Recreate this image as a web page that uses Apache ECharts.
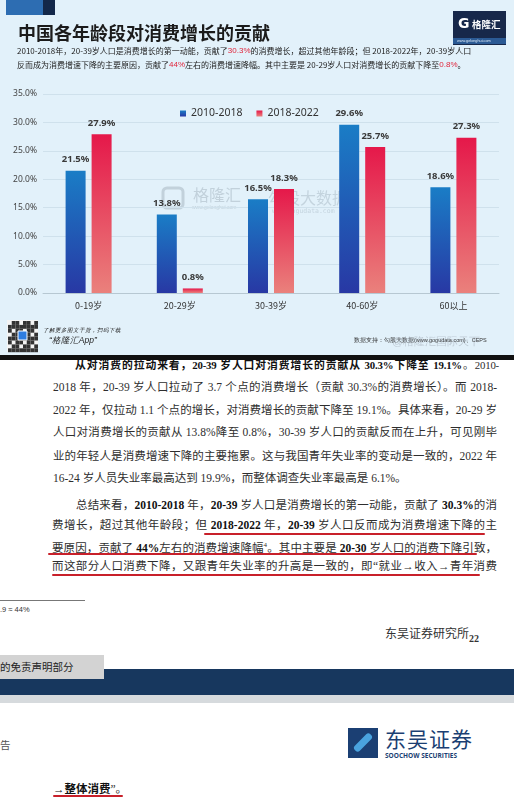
<!DOCTYPE html>
<html><head><meta charset="utf-8">
<script src="https://cdn.jsdelivr.net/npm/echarts/dist/echarts.min.js"></script>
<style>
body{margin:0;width:514px;height:800px;overflow:hidden;background:#fff;font-family:"Noto Sans CJK SC",sans-serif;position:relative;}
#chart{position:absolute;left:0;top:0;width:514px;height:355px;}
.blk{position:absolute;}
.ln{position:absolute;font-family:"Liberation Serif","Noto Sans CJK SC",serif;font-size:11.5px;line-height:16px;color:#2e2e2e;text-align:justify;text-align-last:justify;}
.ln b{font-weight:bold;color:#111;}
.ul{position:absolute;height:2px;background:#c8202a;border-radius:1px;}
</style></head>
<body>
<div id="chart"></div>
<div class="blk" style="left:0;top:355px;width:514px;height:5px;background:#111;"></div>

<div class="ln" style="left:75px;top:357px;width:424px;font-size:10.8px;letter-spacing:-0.2px;"><b>从对消费的拉动来看，20-39 岁人口对消费增长的贡献从 30.3%下降至 19.1%</b>。2010-</div>
<div class="ln" style="left:53px;top:379px;width:444px;">2018 年，20-39 岁人口拉动了 3.7 个点的消费增长（贡献 30.3%的消费增长）。而 2018-</div>
<div class="ln" style="left:53px;top:402px;width:444px;">2022 年，仅拉动 1.1 个点的增长，对消费增长的贡献下降至 19.1%。具体来看，20-29 岁</div>
<div class="ln" style="left:53px;top:424px;width:444px;">人口对消费增长的贡献从 13.8%降至 0.8%，30-39 岁人口的贡献反而在上升，可见刚毕</div>
<div class="ln" style="left:53px;top:448px;width:444px;">业的年轻人是消费增速下降的主要拖累。这与我国青年失业率的变动是一致的，2022 年</div>
<div class="ln" style="left:53px;top:470px;text-align:left;text-align-last:left;">16-24 岁人员失业率最高达到 19.9%，而整体调查失业率最高是 6.1%。</div>

<div class="ln" style="left:76px;top:497px;width:421px;">总结来看，<b>2010-2018</b> 年，<b>20-39</b> 岁人口是消费增长的第一动能，贡献了 <b>30.3%</b>的消</div>
<div class="ln" style="left:52px;top:517px;width:445px;">费增长，超过其他年龄段；但 <b>2018-2022</b> 年，<b>20-39</b> 岁人口反而成为消费增速下降的主</div>
<div class="ln" style="left:52px;top:537px;width:445px;">要原因，贡献了 <b>44%</b>左右的消费增速降幅<sup style="font-size:7px">4</sup>。其中主要是 <b>20-30</b> 岁人口的消费下降引致，</div>
<div class="ln" style="left:52px;top:558px;width:445px;">而这部分人口消费下降，又跟青年失业率的升高是一致的，即“就业→收入→青年消费</div>
<div class="ul" style="left:204px;top:533px;width:281px;"></div>
<div class="ul" style="left:48px;top:553px;width:429px;"></div>
<div class="ul" style="left:52px;top:574px;width:428px;"></div>

<div class="blk" style="left:0;top:600px;width:85px;height:1px;background:#777;"></div>
<div class="blk" style="left:0;top:605px;font-family:'Liberation Sans';font-size:7.5px;color:#333;">.9 ≈ 44%</div>
<div class="blk" style="left:385px;top:624px;font-family:'Liberation Serif','Noto Sans CJK SC';font-size:12px;color:#333;">东吴证券研究所<b style="font-size:10px;position:relative;top:4px;">22</b></div>
<div class="blk" style="left:0;top:669px;width:514px;height:26px;background:#17375e;"></div>
<div class="blk" style="left:0;top:695px;width:514px;height:8px;background:#d6dadd;"></div>
<div class="blk" style="left:0;top:655px;width:104px;height:24px;background:#d3d3d3;font-size:10.5px;line-height:24px;color:#222;">的免责声明部分</div>
<div class="blk" style="left:0;top:737px;font-size:10.5px;color:#555;">告</div>
<div class="blk" style="left:348px;top:728px;width:30px;height:30px;background:#1b3f73;"></div>
<div class="blk" style="left:352px;top:739px;width:22px;height:7px;background:#4aa3df;transform:rotate(-45deg);border-radius:3px;"></div>
<div class="blk" style="left:385px;top:726px;font-size:21px;line-height:24px;color:#1b3f73;letter-spacing:1px;">东吴证券</div>
<div class="blk" style="left:385px;top:751px;font-family:'Open Sans';font-weight:bold;font-size:6.5px;color:#1b3f73;">SOOCHOW SECURITIES</div>
<div class="ln" style="left:53px;top:781px;text-align:left;text-align-last:left;"><b>→整体消费</b>”。</div>
<div class="ul" style="left:53px;top:795px;width:70px;"></div>

<script>
const categories = ['0-19岁', '20-29岁', '30-39岁', '40-60岁', '60以上'];
const seriesNames = ['2010-2018', '2018-2022'];
const values2010_2018 = [21.5, 13.8, 16.5, 29.6, 18.6];
const values2018_2022 = [27.9, 0.8, 18.3, 25.7, 27.3];
const yMin = 0, yMax = 35, yStep = 5;

const chart = echarts.init(document.getElementById('chart'), null, {renderer: 'canvas'});
const blueGrad = new echarts.graphic.LinearGradient(0, 0, 0, 1, [
  {offset: 0, color: '#1a7dc6'}, {offset: 1, color: '#2838a4'}]);
const redGrad = new echarts.graphic.LinearGradient(0, 0, 0, 1, [
  {offset: 0, color: '#e5184a'}, {offset: 1, color: '#ea817c'}]);
const labelCfg = {show: true, position: 'top', distance: 6, fontSize: 9.5, fontWeight: 'bold',
  color: '#3a3a3a', fontFamily: 'Noto Sans', formatter: p => p.value.toFixed(1) + '%'};

const qr = [];
for (let i = 0; i < 8; i++) for (let j = 0; j < 8; j++) {
  if (((i * 7 + j * 5 + i * j) % 3) !== 0) qr.push({type: 'rect', shape: {x: 8 + j * 3.75, y: 321 + i * 3.9, width: 3.75, height: 3.9}, style: {fill: '#333'}});
}

chart.setOption({
  backgroundColor: '#e2f1fa',
  animation: false,
  textStyle: {fontFamily: 'Noto Sans CJK SC'},
  grid: {left: 43, right: 15, top: 94, bottom: 62},
  legend: {
    data: seriesNames, left: 175, top: 103, icon: 'rect', itemWidth: 6, itemHeight: 6, itemGap: 14,
    textStyle: {fontSize: 10.5, color: '#333', fontFamily: 'Noto Sans'}
  },
  xAxis: {
    type: 'category', data: categories,
    axisLine: {lineStyle: {color: '#b7c8d2'}}, axisTick: {show: false},
    axisLabel: {fontSize: 9, color: '#333', margin: 8}
  },
  yAxis: {
    type: 'value', min: yMin, max: yMax, interval: yStep,
    axisLine: {show: false}, axisTick: {show: false},
    splitLine: {lineStyle: {color: '#cfe1ec'}},
    axisLabel: {fontSize: 8.5, color: '#444', fontFamily: 'Noto Sans', margin: 6, formatter: v => v.toFixed(1) + '%'}
  },
  series: [
    {name: seriesNames[0], type: 'bar', data: values2010_2018, barWidth: 20, barGap: '30%',
      itemStyle: {color: blueGrad}, label: labelCfg},
    {name: seriesNames[1], type: 'bar', data: values2018_2022, barWidth: 20,
      itemStyle: {color: redGrad}, label: labelCfg}
  ],
  graphic: [
    {type: 'rect', shape: {x: 6, y: 0, width: 37, height: 15}, style: {fill: '#2d6db2'}},
    {type: 'rect', shape: {x: 43, y: 0, width: 12, height: 15}, style: {fill: '#13284a'}},
    {type: 'text', x: 18, y: 24, style: {text: '中国各年龄段对消费增长的贡献', fontSize: 18, fontWeight: 'bold', fill: '#1b1b1b', fontFamily: 'Noto Sans CJK SC'}},
    {type: 'text', x: 17, y: 47, style: {
      text: '2010-2018年，20-39岁人口是消费增长的第一动能，贡献了{r|30.3%}的消费增长，超过其他年龄段；但 2018-2022年，20-39岁人口',
      fontSize: 8, fill: '#222', fontFamily: 'Noto Sans CJK SC',
      rich: {r: {fill: '#e0263c', fontSize: 8}}}},
    {type: 'text', x: 17, y: 61, style: {
      text: '反而成为消费增速下降的主要原因，贡献了{r|44%}左右的消费增速降幅。其中主要是 20-29岁人口对消费增长的贡献下降至{r|0.8%}。',
      fontSize: 8, fill: '#222', fontFamily: 'Noto Sans CJK SC',
      rich: {r: {fill: '#e0263c', fontSize: 8}}}},
    {type: 'rect', shape: {x: 453, y: 11, width: 53, height: 34}, style: {fill: '#17284a'}},
    {type: 'rect', shape: {x: 453, y: 38, width: 53, height: 6}, style: {fill: '#2b5a94'}},
    {type: 'text', x: 458, y: 17, style: {text: 'G', fontSize: 14, fontWeight: 'bold', fill: '#fff', fontFamily: 'DejaVu Sans'}},
    {type: 'text', x: 472, y: 20, style: {text: '格隆汇', fontSize: 9.5, fontWeight: 'bold', fill: '#fff', fontFamily: 'Noto Sans CJK SC'}},
    {type: 'text', x: 457, y: 38.5, style: {text: 'www.gelonghui.com', fontSize: 3.8, fill: '#d8e6f5', fontFamily: 'Liberation Sans'}},
    {type: 'rect', shape: {x: 163, y: 188, width: 20, height: 20, r: 4}, style: {fill: 'none', stroke: 'rgba(120,135,150,0.3)', lineWidth: 3}},
    {type: 'text', x: 193, y: 187, style: {text: '格隆汇', fontSize: 16, fill: 'rgba(120,135,150,0.3)', fontFamily: 'Noto Sans CJK SC'}},
    {type: 'text', x: 192, y: 205, style: {text: 'www.gelonghui.com', fontSize: 5, fill: 'rgba(120,135,150,0.3)'}},
    {type: 'text', x: 268, y: 190, style: {text: '勾股大数据', fontSize: 16, fill: 'rgba(120,135,150,0.28)', fontFamily: 'Noto Sans CJK SC'}},
    {type: 'text', x: 272, y: 208, style: {text: 'www.gogudata.com', fontSize: 6.5, fill: 'rgba(120,135,150,0.28)', fontFamily: 'DejaVu Sans Mono'}},
    {type: 'rect', shape: {x: 7, y: 320, width: 31, height: 32}, style: {fill: '#f4f4f4'}},
    {type: 'group', children: qr},
    {type: 'rect', shape: {x: 18, y: 331, width: 9, height: 9}, style: {fill: '#2f7de0', stroke: '#fff', lineWidth: 1}},
    {type: 'text', x: 43, y: 327, style: {text: '了解更多图文干货，扫码下载', fontSize: 5.5, fontStyle: 'italic', fill: '#222'}},
    {type: 'text', x: 49, y: 336, style: {text: '“格隆汇App”', fontSize: 8.5, fontStyle: 'italic', fill: '#222'}},
    {type: 'text', x: 354, y: 337, style: {text: '数据支持：勾股大数据(www.gogudata.com)、CEPS', fontSize: 5.5, fill: '#333'}},
    {type: 'text', x: 392, y: 336, style: {text: '@格隆汇国际天下', fontSize: 11, fill: 'rgba(150,160,170,0.45)'}}
  ]
});
</script>
</body></html>
